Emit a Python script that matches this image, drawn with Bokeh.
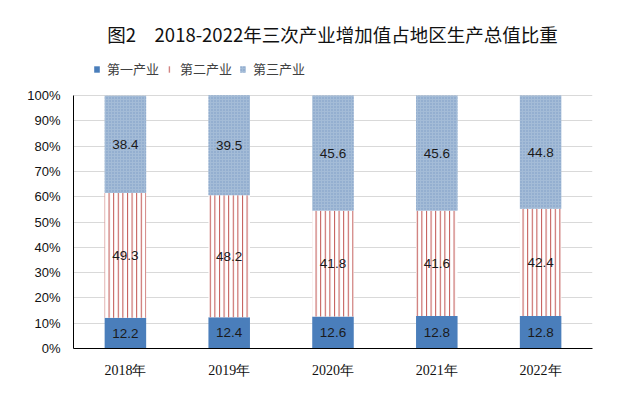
from bokeh.plotting import figure
from bokeh.models import (ColumnDataSource, LabelSet, Label, Legend, LegendItem,
                          FactorRange, Range1d, FixedTicker, PrintfTickFormatter)
from bokeh.core.properties import value
from bokeh.embed import file_html
from bokeh.resources import INLINE

# ---- data ----
years = ["2018年", "2019年", "2020年", "2021年", "2022年"]
primary = [12.2, 12.4, 12.6, 12.8, 12.8]
secondary = [49.3, 48.2, 41.8, 41.6, 42.4]
tertiary = [38.4, 39.5, 45.6, 45.6, 44.8]
series_names = ["第一产业", "第二产业", "第三产业"]
y_ticks = list(range(0, 101, 10))
title_text = "图2　2018-2022年三次产业增加值占地区生产总值比重"

# ---- layout (pixels) ----
W, H = 616, 385
FRAME_LEFT, FRAME_RIGHT = 73, 592
FRAME_TOP, FRAME_BOTTOM = 5, 348
AXIS_TOP = 95  # pixel row of the 100% line
y_max = 100 * (FRAME_BOTTOM - FRAME_TOP) / (FRAME_BOTTOM - AXIS_TOP)

src = ColumnDataSource(dict(year=years, primary=primary, secondary=secondary, tertiary=tertiary))

p = figure(x_range=FactorRange(factors=years, range_padding=0), y_range=Range1d(0, y_max),
           width=W, height=H, output_backend="svg", toolbar_location=None,
           min_border_left=FRAME_LEFT, min_border_right=W - FRAME_RIGHT,
           min_border_top=FRAME_TOP, min_border_bottom=H - FRAME_BOTTOM)
p.outline_line_color = None
p.background_fill_color = "white"

rs = p.vbar_stack(["primary", "secondary", "tertiary"], x="year", width=0.4, source=src,
                  fill_color=["#4a7ebb", "white", "#a4bcd7"],
                  line_color=[None, None, None],
                  hatch_pattern=[" ", "vertical_line", "dot"],
                  hatch_color=["#4a7ebb", "#c0504d", "#7b9bc4"],
                  hatch_scale=[4, 4.6, 3],
                  hatch_weight=[1, 1, 1])

# labels at segment centres
lab_x, lab_y, lab_t = [], [], []
for i, yr in enumerate(years):
    b = 0
    for vals in (primary, secondary, tertiary):
        v = vals[i]
        lab_x.append(yr)
        lab_y.append(b + v / 2)
        lab_t.append(f"{v:.1f}")
        b += v
lsrc = ColumnDataSource(dict(x=lab_x, y=lab_y, t=lab_t))
p.add_layout(LabelSet(x="x", y="y", text="t", source=lsrc, text_align="center",
                      text_baseline="middle", text_font_size=value("13.5px"),
                      text_font=value("Liberation Sans"), text_color="#1a1a1a"))

# axes
p.xgrid.grid_line_color = None
p.ygrid.grid_line_color = "#d9d9d9"
p.ygrid.ticker = FixedTicker(ticks=y_ticks)
p.ygrid.bounds = (0, 100)
p.yaxis.ticker = FixedTicker(ticks=y_ticks)
p.yaxis.bounds = (0, 100)
p.yaxis.formatter = PrintfTickFormatter(format="%d%%")
for ax in (p.xaxis, p.yaxis):
    ax.axis_line_color = "black"
    ax.axis_line_width = 1
    ax.major_tick_line_color = None
    ax.minor_tick_line_color = None
p.yaxis.major_label_text_font = "Liberation Sans"
p.yaxis.major_label_text_font_size = "13px"
p.yaxis.major_label_text_color = "#111111"
p.yaxis.major_label_standoff = 7
p.xaxis.major_label_text_font = "Liberation Serif"
p.xaxis.major_label_text_font_size = "14px"
p.xaxis.major_label_text_color = "#111111"
p.xaxis.major_label_standoff = 8

# legend (inside the tall frame, above the 100% line)
legend = Legend(items=[LegendItem(label=n, renderers=[r]) for n, r in zip(series_names, rs)],
                location=(20, 270), orientation="horizontal",
                glyph_width=7, glyph_height=8, label_standoff=7, spacing=7,
                padding=0, margin=0, border_line_color=None, background_fill_alpha=0,
                label_text_font="Noto Sans CJK SC", label_text_font_size="13px",
                label_text_color="#404040", label_height=14)
p.add_layout(legend)

# title
p.add_layout(Label(x=259, y=FRAME_BOTTOM - 33, x_units="screen", y_units="screen", text=title_text,
                   text_align="center", text_baseline="middle", text_font="Noto Sans CJK SC",
                   text_font_size="18.5px", text_color="#111111"))

open("out.html", "w").write(file_html(p, INLINE))
